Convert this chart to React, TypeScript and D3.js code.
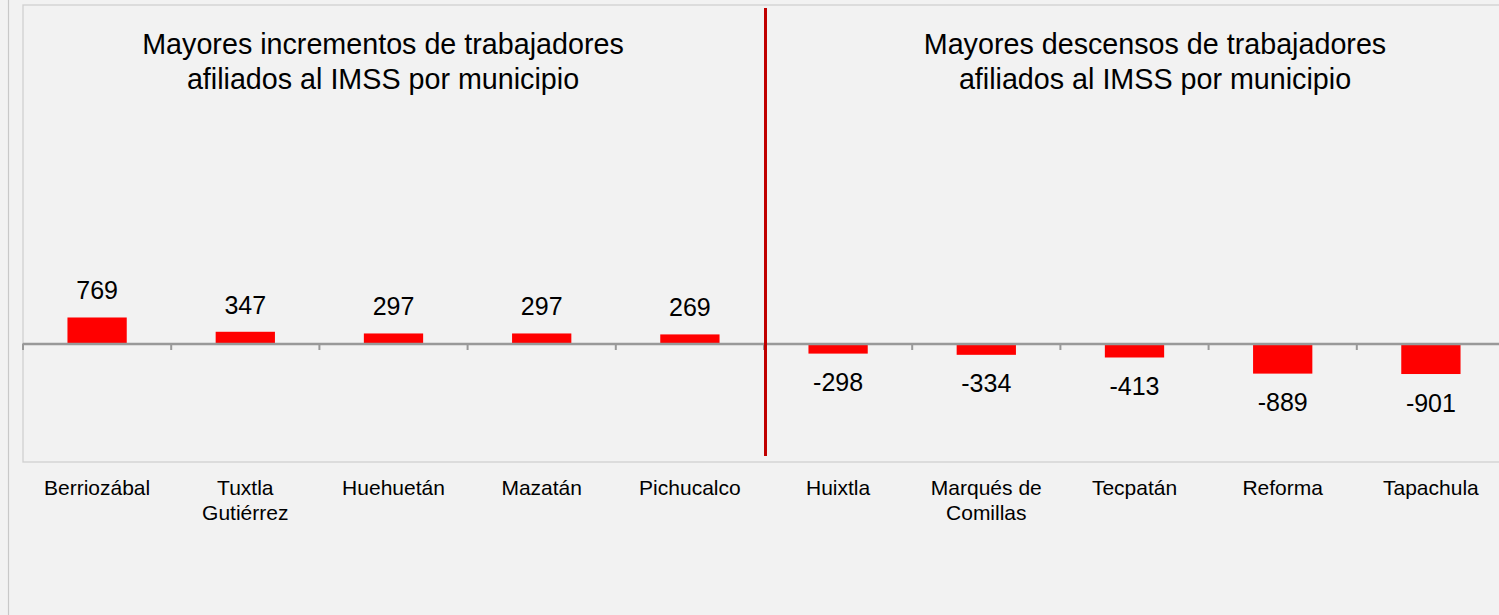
import React from "react";
import { scaleBand, scaleLinear } from "d3";

const width = 1499;
const height = 615;

const categories = [
  "Berriozábal",
  "Tuxtla Gutiérrez",
  "Huehuetán",
  "Mazatán",
  "Pichucalco",
  "Huixtla",
  "Marqués de Comillas",
  "Tecpatán",
  "Reforma",
  "Tapachula",
];
// wrapped the same way as the source
const categoryLines = [
  ["Berriozábal"],
  ["Tuxtla", "Gutiérrez"],
  ["Huehuetán"],
  ["Mazatán"],
  ["Pichucalco"],
  ["Huixtla"],
  ["Marqués de", "Comillas"],
  ["Tecpatán"],
  ["Reforma"],
  ["Tapachula"],
];
const values = [769, 347, 297, 297, 269, -298, -334, -413, -889, -901];

const titleLeft = ["Mayores incrementos de trabajadores", "afiliados al IMSS por municipio"];
const titleRight = ["Mayores descensos de trabajadores", "afiliados al IMSS por municipio"];

const plot = { left: 23, top: 5, right: 1505, bottom: 462 };
const font = "'Liberation Sans', Arial, sans-serif";

const x = scaleBand<string>()
  .domain(categories)
  .range([plot.left, plot.right])
  .paddingInner(0.6)
  .paddingOuter(0.3);

const slot = scaleBand<string>().domain(categories).range([plot.left, plot.right]);

const y = scaleLinear().domain([-3500, 10000]).range([plot.bottom, plot.top]);

const App = () => {
  const zero = y(0);
  const divider = slot(categories[5]) as number;

  return (
    <svg
      width={width}
      height={height}
      style={{ position: "absolute", left: 0, top: 0, background: "#f2f2f2" }}
      fontFamily={font}
    >
      <rect x={0} y={0} width={width} height={height} fill="#f2f2f2" />
      <line x1={8.5} x2={8.5} y1={0} y2={height} stroke="#c8c8c8" strokeWidth={1.2} />
      <rect
        x={plot.left}
        y={plot.top}
        width={plot.right - plot.left}
        height={plot.bottom - plot.top}
        fill="none"
        stroke="#d0d0d0"
        strokeWidth={1.3}
      />

      {/* titles */}
      {[titleLeft, titleRight].map((lines, k) => (
        <text
          key={k}
          x={k === 0 ? 383 : 1155}
          y={53.5}
          fontSize={28.7}
          textAnchor="middle"
          fill="#000"
        >
          {lines.map((l, i) => (
            <tspan key={i} x={k === 0 ? 383 : 1155} dy={i === 0 ? 0 : 35}>
              {l}
            </tspan>
          ))}
        </text>
      ))}

      {/* bars */}
      {categories.map((c, i) => {
        const v = values[i];
        const y0 = Math.min(y(v), zero);
        const h = Math.abs(y(v) - zero);
        return (
          <rect key={c} x={x(c)} y={y0} width={x.bandwidth()} height={h} fill="#ff0000" />
        );
      })}

      {/* value labels */}
      {categories.map((c, i) => {
        const v = values[i];
        const cx = (x(c) as number) + x.bandwidth() / 2;
        const ty = v >= 0 ? y(v) - 18 : y(v) + 37.5;
        return (
          <text key={c} x={cx} y={ty} fontSize={25} textAnchor="middle" fill="#000">
            {v}
          </text>
        );
      })}

      {/* axis */}
      <line x1={plot.left} x2={plot.right} y1={zero + 0.5} y2={zero + 0.5} stroke="#999999" strokeWidth={2.5} />
      {categories.map((c) => {
        const tx = slot(c) as number;
        return (
          <line key={c} x1={tx} x2={tx} y1={zero} y2={zero + 6.5} stroke="#999999" strokeWidth={2} />
        );
      })}

      {/* divider */}
      <line x1={divider + 1.5} x2={divider + 1.5} y1={8} y2={456} stroke="#c00000" strokeWidth={3} />

      {/* category labels */}
      {categories.map((c, i) => {
        const cx = (slot(c) as number) + slot.bandwidth() / 2;
        return (
          <text key={c} x={cx} y={495} fontSize={21} textAnchor="middle" fill="#000">
            {categoryLines[i].map((l, j) => (
              <tspan key={j} x={cx} dy={j === 0 ? 0 : 25}>
                {l}
              </tspan>
            ))}
          </text>
        );
      })}
    </svg>
  );
};

export default App;
